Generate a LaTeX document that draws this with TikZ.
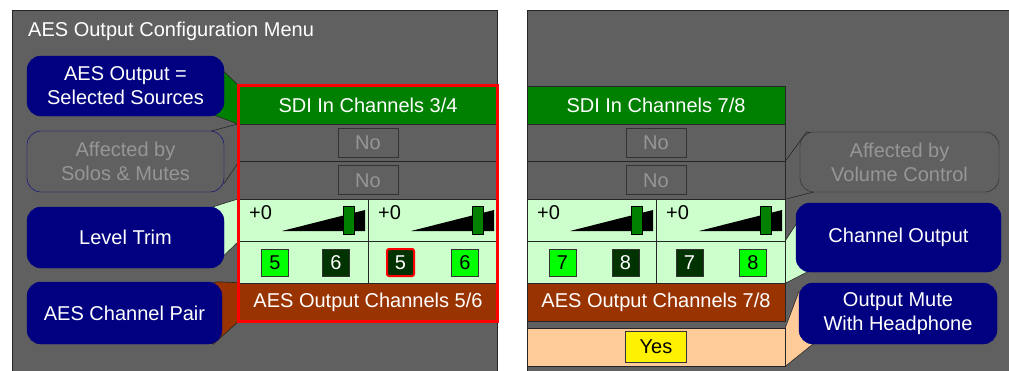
\documentclass[tikz,border=0pt]{standalone}
\usepackage{fontspec}
\setmainfont{Liberation Sans}
\usetikzlibrary{positioning, calc, fit, backgrounds}

\definecolor{panelgray}{RGB}{96,96,96}
\definecolor{navy}{RGB}{0,0,128}
\definecolor{hdrgreen}{RGB}{0,128,0}
\definecolor{litegreen}{RGB}{204,255,204}
\definecolor{rust}{RGB}{153,51,0}
\definecolor{peach}{RGB}{255,204,153}
\definecolor{btnon}{RGB}{0,255,0}
\definecolor{btnoff}{RGB}{0,51,0}
\definecolor{dimtext}{RGB}{150,150,150}

\begin{document}
\begin{tikzpicture}[
    x=1pt, y=-1pt,
    font=\fontsize{20}{24}\selectfont,
    tabrow/.style={rectangle, draw=black!85, line width=0.6pt, minimum width=258pt, minimum height=38pt, inner sep=0pt},
    gaincell/.style={rectangle, draw=black!85, line width=0.6pt, fill=litegreen, minimum width=129pt, minimum height=42pt, inner sep=0pt},
    tipbox/.style={rectangle, rounded corners=14pt, minimum width=197pt, minimum height=61pt, align=center, inner sep=0pt},
    helpbox/.style={tipbox, fill=navy, draw=navy, text=white},
    notebox/.style={tipbox, fill=panelgray, text=dimtext},
    optbox/.style={rectangle, draw=black!80, line width=0.6pt, minimum width=60pt, minimum height=29pt, inner sep=0pt},
    chbtn/.style={rectangle, draw=black!80, line width=0.6pt, minimum width=27pt, minimum height=27pt, inner sep=0pt},
    onbtn/.style={chbtn, fill=btnon},
    offbtn/.style={chbtn, fill=btnoff, text=white},
    leader/.style={draw=black!85, line width=0.6pt}
]
    \useasboundingbox (0,0) rectangle (1009,370);

    % Title
    \node [anchor=base west, text=white, inner sep=0pt] (title) at (28,36) {AES Output Configuration Menu};

    % Left table
    \node [tabrow, fill=hdrgreen, text=white] (hdrA) at (368,105) {SDI In Channels 3/4};
    \node [tabrow, fill=panelgray, minimum height=37.5pt] (noA1) at (368,142.75) {};
    \node [tabrow, fill=panelgray, minimum height=37.5pt] (noA2) at (368,180.25) {};
    \node [optbox, text=dimtext] (optA1) at (noA1) {No};
    \node [optbox, text=dimtext] (optA2) at (noA2) {No};
    \node [gaincell] (trimA1) at (303.5,220) {};
    \node [gaincell] (trimA2) at (432.5,220) {};
    \node [gaincell] (btnA1) at (303.5,262) {};
    \node [gaincell] (btnA2) at (432.5,262) {};
    \node [tabrow, fill=rust, text=white] (outA) at (368,302) {AES Output Channels 5/6};

    % Left sliders
    \node [anchor=base west, inner sep=0pt] (gainA1) at (249,219) {+0};
    \fill (282,231) -- (365,210) -- (365,231) -- cycle;
    \draw [fill=hdrgreen] (343,206) rectangle (354,234);
    \node [anchor=base west, inner sep=0pt] (gainA2) at (378,219) {+0};
    \fill (411,231) -- (494,210) -- (494,231) -- cycle;
    \draw [fill=hdrgreen] (472,206) rectangle (483,234);

    % Left channel buttons
    \node [onbtn] (chA1) at (275,262.5) {5};
    \node [offbtn] (chA2) at (336,262.5) {6};
    \node [offbtn, draw=red, line width=2pt, rounded corners=2pt] (chA3) at (400.5,262.5) {5};
    \node [onbtn] (chA4) at (465,262.5) {6};

    % Selection frame
    \node [draw=red, line width=3pt, fit=(hdrA)(outA), inner sep=0pt] (frameA) {};

    % Right table
    \node [tabrow, fill=hdrgreen, text=white] (hdrB) at (656,105) {SDI In Channels 7/8};
    \node [tabrow, fill=panelgray, minimum height=37.5pt] (noB1) at (656,142.75) {};
    \node [tabrow, fill=panelgray, minimum height=37.5pt] (noB2) at (656,180.25) {};
    \node [optbox, text=dimtext] (optB1) at (noB1) {No};
    \node [optbox, text=dimtext] (optB2) at (noB2) {No};
    \node [gaincell] (trimB1) at (591.5,220) {};
    \node [gaincell] (trimB2) at (720.5,220) {};
    \node [gaincell] (btnB1) at (591.5,262) {};
    \node [gaincell] (btnB2) at (720.5,262) {};
    \node [tabrow, fill=rust, text=white] (outB) at (656,302) {AES Output Channels 7/8};
    \node [tabrow, fill=peach] (yesB) at (656,347) {};
    \node [optbox, fill=yellow, minimum width=61pt, minimum height=31pt] (optB3) at (yesB) {Yes};

    % Right sliders
    \node [anchor=base west, inner sep=0pt] (gainB1) at (537,219) {+0};
    \fill (570,231) -- (653,210) -- (653,231) -- cycle;
    \draw [fill=hdrgreen] (631,206) rectangle (642,234);
    \node [anchor=base west, inner sep=0pt] (gainB2) at (666,219) {+0};
    \fill (699,231) -- (782,210) -- (782,231) -- cycle;
    \draw [fill=hdrgreen] (760,206) rectangle (771,234);

    % Right channel buttons
    \node [onbtn] (chB1) at (562.5,262.5) {7};
    \node [offbtn] (chB2) at (625.5,262.5) {8};
    \node [offbtn] (chB3) at (689.5,262.5) {7};
    \node [onbtn] (chB4) at (753,262.5) {8};

    % Callouts
    \node [helpbox, minimum height=60pt] (selsrc) at (125.5,86) {AES Output =\\Selected Sources};
    \node [notebox, draw=navy] (solos) at (125.5,161.5) {Affected by\\Solos \& Mutes};
    \node [helpbox] (trim) at (125.5,237.5) {Level Trim};
    \node [helpbox, minimum width=195pt, minimum height=62pt] (pair) at (124.5,313) {AES Channel Pair};
    \node [notebox, draw=black!85, minimum width=199pt, minimum height=60pt] (volctl) at (899.5,162) {Affected by\\Volume Control};
    \node [helpbox, minimum width=205pt, minimum height=69pt] (chout) at (898.5,237.5) {Channel Output};
    \node [helpbox, minimum width=198pt] (mute) at (898,313.5) {Output Mute\\With Headphone};

    % Panels and leaders
    \begin{scope}[on background layer]
        \filldraw [fill=panelgray, draw=black!85] (12,10) rectangle (497,376);
        \filldraw [fill=panelgray, draw=black!85] (527,10) rectangle (1016,376);
        \filldraw [fill=hdrgreen, leader] (selsrc.center) -- ([yshift=-16pt]selsrc.north east) -- (hdrA.north west) -- (hdrA.south west) -- ([xshift=-7pt]selsrc.south east) -- cycle;
        \filldraw [fill=panelgray, leader] (solos.center) -- ([xshift=-12pt]solos.north east) -- (noA1.north west) -- (noA1.south west) -- ([yshift=9pt]solos.south east) -- cycle;
        \filldraw [fill=litegreen, leader] (trim.center) -- ([xshift=-11pt]trim.north east) -- (trimA1.north west) -- (trimA1.south west) -- ([yshift=13pt]trim.south east) -- cycle;
        \filldraw [fill=rust, leader] (pair.center) -- ([xshift=-5pt]pair.north east) -- (outA.north west) -- (outA.south west) -- ([xshift=-9pt]pair.south east) -- cycle;
        \filldraw [fill=panelgray, leader] (volctl.center) -- ([xshift=7pt]volctl.north west) -- (noB2.north east) -- (noB2.south east) -- ([xshift=13pt]volctl.south west) -- cycle;
        \filldraw [fill=litegreen, leader] (chout.center) -- ([yshift=-22pt]chout.north west) -- (btnB2.north east) -- (btnB2.south east) -- ([xshift=11pt]chout.south west) -- cycle;
        \filldraw [fill=peach, leader] (mute.center) -- ([yshift=-9pt]mute.north west) -- (yesB.north east) -- (yesB.south east) -- ([xshift=14pt]mute.south west) -- cycle;
    \end{scope}
\end{tikzpicture}
\end{document}
